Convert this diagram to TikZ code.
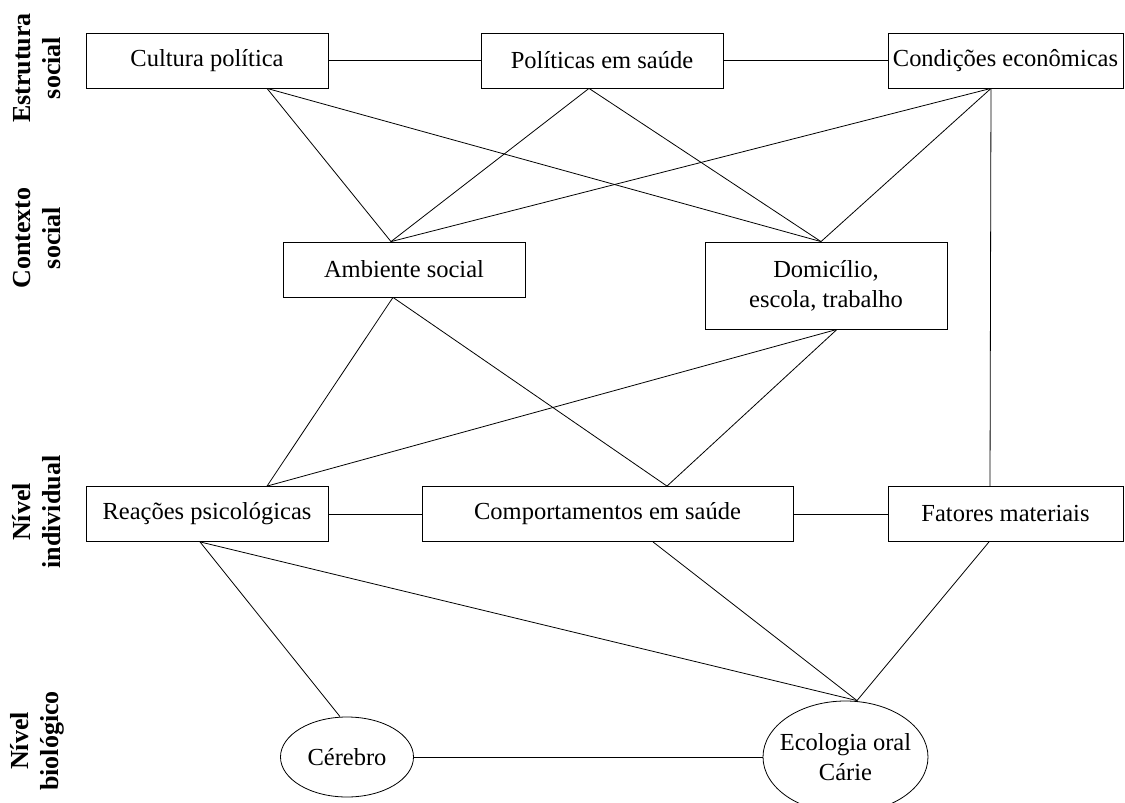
\documentclass[tikz,border=0pt]{standalone}
\usepackage{fontspec}
\setmainfont{Liberation Serif}
\usetikzlibrary{shapes.geometric}
\begin{document}
\begin{tikzpicture}[x=1pt,y=-1pt,
  box/.style={draw, line width=0.8pt, rectangle, inner sep=0pt, align=center,
    minimum height=55pt, font=\fontsize{24.5}{30}\selectfont},
  oval/.style={draw, line width=0.8pt, ellipse, inner sep=0pt},
  ovaltext/.style={align=center, font=\fontsize{24.5}{30}\selectfont},
  link/.style={line width=0.8pt},
  level/.style={rotate=90, align=center, font=\fontsize{26}{30}\selectfont\bfseries}]
\useasboundingbox (0,0) rectangle (1125,803);

% level labels
\node[level] (l1) at (37,68) {Estrutura\\social};
\node[level] (l2) at (37,238) {Contexto\\social};
\node[level] (l3) at (37,512) {Nível\\individual};
\node[level] (l4) at (37,741) {Nível\\biológico};

% boxes
\node[box, minimum width=242pt] (cult) at (207,60.5) {Cultura política};
\node[box, minimum width=242pt] (pol) at (602,60.5) {Políticas em saúde};
\node[box, minimum width=235pt] (cond) at (1005.5,60.5) {Condições econômicas};
\node[box, minimum width=242pt] (amb) at (404,269.5) {Ambiente social};
\node[box, minimum width=242pt, minimum height=87pt] (dom) at (826,285.5) {Domicílio,\\escola, trabalho};
\node[box, minimum width=242pt] (reac) at (207,514) {Reações psicológicas};
\node[box, minimum width=371pt] (comp) at (607.5,514) {Comportamentos em saúde};
\node[box, minimum width=235pt] (fat) at (1005.5,514) {Fatores materiais};

% ellipses
\node[oval, minimum width=133pt, minimum height=80pt,
  label={[ovaltext]center:Cérebro}] (cereb) at (347,757) {};
\node[oval, minimum width=165pt, minimum height=112pt,
  label={[ovaltext]center:Ecologia oral\\Cárie}] (ecol) at (845.5,757) {};

% connection points
\coordinate (cultS) at ([xshift=60pt]cult.south);
\coordinate (polS) at ([xshift=-13pt]pol.south);
\coordinate (condS) at ([xshift=-14.5pt]cond.south);
\coordinate (ambN) at ([xshift=-13pt]amb.north);
\coordinate (ambS) at ([xshift=-11pt]amb.south);
\coordinate (domN) at ([xshift=-5pt]dom.north);
\coordinate (domS) at ([xshift=11pt]dom.south);
\coordinate (reacN) at ([xshift=60pt]reac.north);
\coordinate (reacS) at ([xshift=-7pt]reac.south);
\coordinate (compN) at ([xshift=59.5pt]comp.north);
\coordinate (compS) at ([xshift=45.5pt]comp.south);
\coordinate (fatN) at ([xshift=-15.5pt]fat.north);
\coordinate (fatS) at ([xshift=-16.5pt]fat.south);
\coordinate (cerebN) at ([xshift=-7pt]cereb.north);
\coordinate (ecolN) at ([xshift=11.5pt]ecol.north);

% connectors
\draw[link] (cult.east) -- (pol.west);
\draw[link] (pol.east) -- (cond.west);
\draw[link] (cultS) -- (ambN);
\draw[link] (cultS) -- (domN);
\draw[link] (polS) -- (ambN);
\draw[link] (polS) -- (domN);
\draw[link] (condS) -- (ambN);
\draw[link] (condS) -- (domN);
\draw[link] (condS) -- (fatN);
\draw[link] (ambS) -- (reacN);
\draw[link] (ambS) -- (compN);
\draw[link] (domS) -- (reacN);
\draw[link] (domS) -- (compN);
\draw[link] (reac.east) -- (comp.west);
\draw[link] (comp.east) -- (fat.west);
\draw[link] (reacS) -- (cerebN);
\draw[link] (reacS) -- (ecolN);
\draw[link] (compS) -- (ecolN);
\draw[link] (fatS) -- (ecolN);
\draw[link] (cereb.east) -- (ecol.west);
\end{tikzpicture}
\end{document}
